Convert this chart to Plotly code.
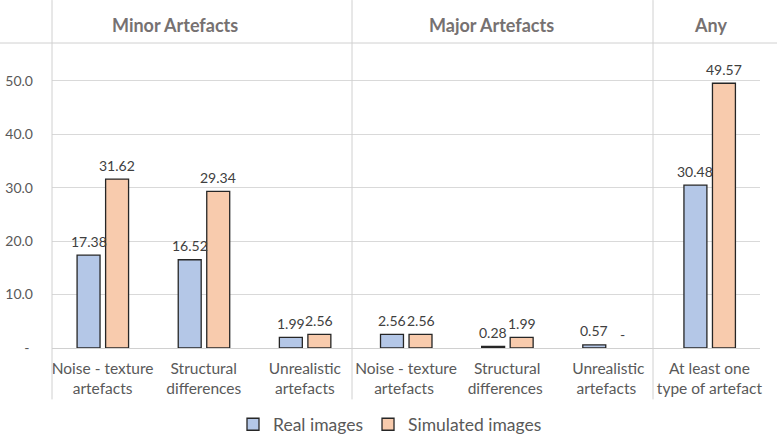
import plotly.graph_objects as go

categories = ["Noise - texture<br>artefacts", "Structural<br>differences", "Unrealistic<br>artefacts",
              "Noise - texture<br>artefacts ", "Structural<br>differences ", "Unrealistic<br>artefacts ",
              "At least one<br>type of artefact"]
real_values = [17.38, 16.52, 1.99, 2.56, 0.28, 0.57, 30.48]
simulated_values = [31.62, 29.34, 2.56, 2.56, 1.99, 0.0, 49.57]
group_labels = ["Minor Artefacts", "Major Artefacts", "Any"]
y_tick_vals = [0, 10, 20, 30, 40, 50]
y_tick_text = ["-\u00a0", "10.0", "20.0", "30.0", "40.0", "50.0"]

FONT = "Lato, 'Open Sans', sans-serif"
W, H = 777, 435
L, R, T, B = 52, 17, 43, 86.5
pw = W - L - R
ph = H - T - B
cat_px = pw / len(categories)

BAR_W = 0.227
OFF_REAL = -0.252
OFF_SIM = 0.03

def px_x(p):
    return (p - L) / pw

def px_y(p):
    return (H - B - p) / ph

def fmt(v):
    return "-" if v == 0 else f"{v:.2f}"

def outline(vals):
    return [0 if v == 0 else 1.3 for v in vals]

fig = go.Figure()
fig.add_trace(go.Bar(
    x=categories, y=real_values, name="Real images",
    marker=dict(color="#B4C7E7", line=dict(color="#262626", width=outline(real_values))),
    width=BAR_W, offset=OFF_REAL,
))
fig.add_trace(go.Bar(
    x=categories, y=simulated_values, name="Simulated images",
    marker=dict(color="#F8CBAD", line=dict(color="#262626", width=outline(simulated_values))),
    width=BAR_W, offset=OFF_SIM,
))

line_col = "#D0D0D0"
shapes = []
shapes.append(dict(type="line", xref="paper", yref="paper", x0=px_x(0), x1=px_x(777),
                   y0=1, y1=1, line=dict(color=line_col, width=1)))
for xp in [52, 352, 653]:
    shapes.append(dict(type="line", xref="paper", yref="paper", x0=px_x(xp), x1=px_x(xp),
                       y0=px_y(0), y1=px_y(400), line=dict(color=line_col, width=1)))

annotations = []
for lbl, cx in zip(group_labels, [175, 491, 710]):
    annotations.append(dict(text=f"<b>{lbl}</b>", xref="paper", yref="paper", x=px_x(cx), y=px_y(25),
                            xanchor="center", yanchor="middle", showarrow=False,
                            font=dict(family=FONT, size=18, color="#767171")))

for vals, off in [(real_values, OFF_REAL), (simulated_values, OFF_SIM)]:
    for c, v in zip(categories, vals):
        annotations.append(dict(text=fmt(v), x=c, y=v, xref="x", yref="y",
                                xshift=(off + BAR_W / 2) * cat_px, yshift=14,
                                xanchor="center", yanchor="middle", showarrow=False,
                                font=dict(family=FONT, size=14, color="#404040")))

fig.update_layout(
    width=W, height=H,
    margin=dict(l=L, r=R, t=T, b=B, pad=0, autoexpand=False),
    paper_bgcolor="white", plot_bgcolor="white",
    barmode="group",
    font=dict(family=FONT, color="#595959"),
    showlegend=True,
    legend=dict(orientation="h", x=px_x(390), xanchor="center", y=px_y(425), yanchor="middle",
                font=dict(family=FONT, size=17.5, color="#595959"),
                traceorder="normal"),
    shapes=shapes, annotations=annotations,
    xaxis=dict(range=[-0.5, 6.5], showgrid=False, showline=True, linecolor=line_col, linewidth=1,
               ticks="", tickfont=dict(family=FONT, size=15.5, color="#595959"), zeroline=False,
               automargin=False, ticklabelstandoff=6),
    yaxis=dict(range=[0, (H - B - T) / 5.35], tickvals=y_tick_vals, ticktext=y_tick_text,
               showgrid=True, gridcolor="#D9D9D9", gridwidth=1, zeroline=False, showline=False,
               ticks="", ticklabelstandoff=18, automargin=False,
               tickfont=dict(family=FONT, size=14, color="#595959")),
)
fig.write_html("out.html", config={"displayModeBar": False},
               post_script="document.body.style.margin='0';document.body.style.overflow='hidden';")
